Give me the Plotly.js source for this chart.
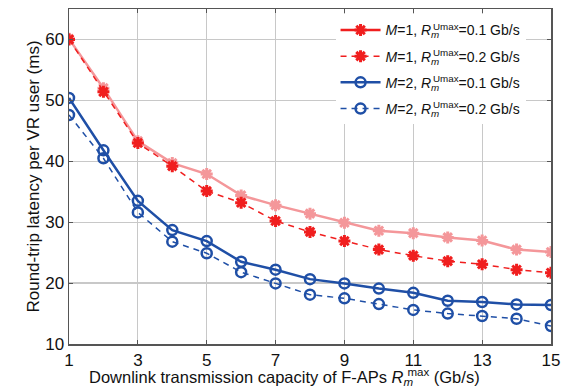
<!DOCTYPE html>
<html>
<head>
<meta charset="utf-8">
<script src="https://cdn.plot.ly/plotly-3.0.1.min.js"></script>
<style>html,body{margin:0;padding:0;background:#fff;}#chart{width:569px;height:391px;}</style>
</head>
<body>
<div id="chart"></div>
<script>
const capacity = [1,2,3,4,5,6,7,8,9,10,11,12,13,14,15];
const m1_r01 = [60.1,52.0,43.3,39.7,37.9,34.4,32.8,31.4,29.9,28.6,28.2,27.5,27.0,25.5,25.1];
const m1_r02 = [60.0,51.4,43.0,39.2,35.1,33.2,30.2,28.4,26.9,25.5,24.5,23.6,23.1,22.2,21.7];
const m2_r01 = [50.4,41.8,33.5,28.7,26.9,23.5,22.2,20.65,19.95,19.1,18.4,17.1,16.9,16.5,16.4];
const m2_r02 = [47.6,40.5,31.6,26.8,24.9,21.8,19.95,18.1,17.5,16.55,15.6,15.0,14.6,14.15,12.95];
const xTicks = [1,3,5,7,9,11,13,15];
const yTicks = [10,20,30,40,50,60,65];
const RM = '<i>R</i><sub><i>m</i></sub><sup><span style="letter-spacing:-9px"> </span>';
const seriesNames = [
  '<i>M</i>=1, ' + RM + 'Umax</sup>=0.1 Gb/s',
  '<i>M</i>=1, ' + RM + 'Umax</sup>=0.2 Gb/s',
  '<i>M</i>=2, ' + RM + 'Umax</sup>=0.1 Gb/s',
  '<i>M</i>=2, ' + RM + 'Umax</sup>=0.2 Gb/s'
];
const xTitle = 'Downlink transmission capacity of F-APs ' + RM + 'max</sup> (Gb/s)';
const yTitle = 'Round-trip latency per VR user (ms)';
const RED = '#f01e1e', PALE = '#f4979a', BLUE = '#1f4fa6';
const FONT = 'Liberation Sans, Arial, sans-serif';

const traces = [
  {x: capacity, y: m1_r01, mode:'lines+markers', showlegend:false, legendgroup:'a',
   line:{color:PALE, width:2.5},
   marker:{symbol:'asterisk-open', size:10, color:PALE, line:{color:PALE, width:3}}},
  {x: [null], y: [null], mode:'lines+markers', name: seriesNames[0], legendgroup:'a',
   line:{color:RED, width:2.5},
   marker:{symbol:'asterisk-open', size:10, color:RED, line:{color:RED, width:3}}},
  {x: capacity, y: m1_r02, mode:'lines+markers', name: seriesNames[1], legendgroup:'b',
   line:{color:RED, width:1.5, dash:'6px,5px'},
   marker:{symbol:'asterisk-open', size:10, color:RED, line:{color:RED, width:3}}},
  {x: capacity, y: m2_r01, mode:'lines+markers', name: seriesNames[2], legendgroup:'c',
   line:{color:BLUE, width:2.5},
   marker:{symbol:'circle-open', size:10, color:BLUE, line:{color:BLUE, width:2.5}}},
  {x: capacity, y: m2_r02, mode:'lines+markers', name: seriesNames[3], legendgroup:'d',
   line:{color:BLUE, width:1.5, dash:'6px,5px'},
   marker:{symbol:'circle-open', size:10, color:BLUE, line:{color:BLUE, width:2.5}}}
];

const axisCommon = {
  showline:true, mirror:'ticks', linecolor:'#555', linewidth:1.5,
  ticks:'inside', ticklen:4, tickcolor:'#555',
  showgrid:true, gridcolor:'#c8c8c8', gridwidth:1.2,
  zeroline:false,
  tickfont:{family:FONT, size:17, color:'#111'}
};

const layout = {
  width:569, height:391,
  margin:{l:69, r:18, t:8.5, b:47},
  paper_bgcolor:'#fff', plot_bgcolor:'#fff',
  font:{family:FONT, color:'#111'},
  xaxis: Object.assign({}, axisCommon, {
    range:[1,15], tickvals:xTicks, ticktext:xTicks.map(String)
  }),
  yaxis: Object.assign({}, axisCommon, {
    range:[10,65], tickvals:yTicks, ticktext:yTicks.map(String),
    title:{text:yTitle, font:{size:17, family:FONT, color:'#111'}, standoff:1}
  }),
  annotations:[{
    text:xTitle, xref:'paper', yref:'paper', x:0.448, y:-0.098,
    xanchor:'center', yanchor:'middle', showarrow:false,
    font:{size:16.5, family:FONT, color:'#111'}
  }],
  legend:{x:0.553, y:0.984, xanchor:'left', yanchor:'top',
          bgcolor:'#fff', borderwidth:0, itemwidth:40, tracegroupgap:5,
          font:{size:14, family:FONT, color:'#111'}},
  showlegend:true
};

Plotly.newPlot('chart', traces, layout, {displayModeBar:false, staticPlot:true});
</script>
</body>
</html>
